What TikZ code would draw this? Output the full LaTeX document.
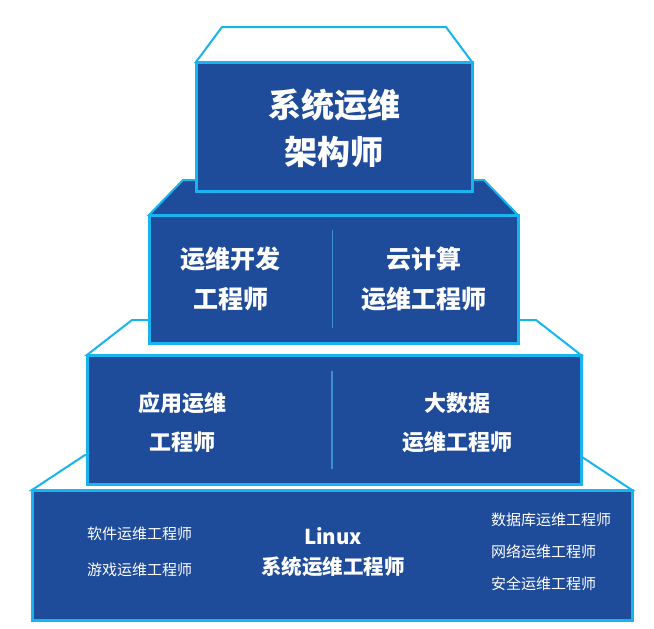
\documentclass[tikz,border=0pt]{standalone}
\usepackage{fontspec}
\newfontfamily\cjk{Noto Sans CJK SC}
\usepackage{tikz}
\usetikzlibrary{calc}
\definecolor{frontc}{HTML}{1E4B9A}
\definecolor{edgec}{HTML}{18B4F0}
\definecolor{splitc}{HTML}{3B8FD6}
\tikzset{
  face/.style={draw=edgec,line width=3pt,fill=frontc},
  roof/.style={draw=edgec,line width=2pt},
  split/.style={splitc,line width=1.2pt},
  lbl/.style={text=white,align=center,inner sep=0pt},
  small/.style={text=white,align=left,anchor=west,inner sep=0pt}
}
\newcommand{\tier}[7]{%
  \draw[roof,fill=#2] (#3,#5) -- ++(#7,-35) -- ({#4-#7},{#5-35}) -- (#4,#5) -- cycle;
  \draw[face] (#3,#5) rectangle (#4,#6);
  \coordinate (#1) at ({(#3+#4)/2},{(#5+#6)/2});
}

\begin{document}
\begin{tikzpicture}[x=1pt,y=-1pt]
\fill[white] (0,0) rectangle (654,629);
\useasboundingbox (0,0) rectangle (654,629);
% tiers, bottom first
\tier{t4}{white}{32}{632}{490}{620}{53}
\tier{t3}{white}{87}{581}{355}{484}{45}
\tier{t2}{frontc}{149}{518}{215}{343}{34}
\tier{t1}{white}{196}{472}{62}{191}{26}
\draw[split] ($(t2)+(-1,-49)$) -- ($(t2)+(-1,49)$);
\draw[split] ($(t3)+(-2,-49)$) -- ($(t3)+(-2,49)$);
% labels
\node[lbl,font=\cjk\bfseries\fontsize{33}{47}\selectfont] (arch) at ($(t1)+(0,2)$) {系统运维\\架构师};
\node[lbl,font=\cjk\bfseries\fontsize{25}{40}\selectfont] (devops) at ($(t2)+(-103,0)$) {运维开发\\工程师};
\node[lbl,font=\cjk\bfseries\fontsize{25}{40}\selectfont] (cloud) at ($(t2)+(90,0)$) {云计算\\运维工程师};
\node[lbl,font=\cjk\bfseries\fontsize{22}{39}\selectfont] (appops) at ($(t3)+(-152,3)$) {应用运维\\工程师};
\node[lbl,font=\cjk\bfseries\fontsize{20.5}{30}\selectfont] (linux) at ($(t4)+(1,-3)$) {Linux\\系统运维工程师};
\node[lbl,font=\cjk\bfseries\fontsize{22}{39}\selectfont] (bigdata) at ($(t3)+(123,3)$) {大数据\\运维工程师};
\node[small,font=\cjk\fontsize{15}{36}\selectfont] (leftops) at ($(t4)+(-245,-3)$) {软件运维工程师\\游戏运维工程师};
\node[small,font=\cjk\fontsize{15}{32}\selectfont] (rightops) at ($(t4)+(159,-3)$) {数据库运维工程师\\网络运维工程师\\安全运维工程师};
\end{tikzpicture}
\end{document}
